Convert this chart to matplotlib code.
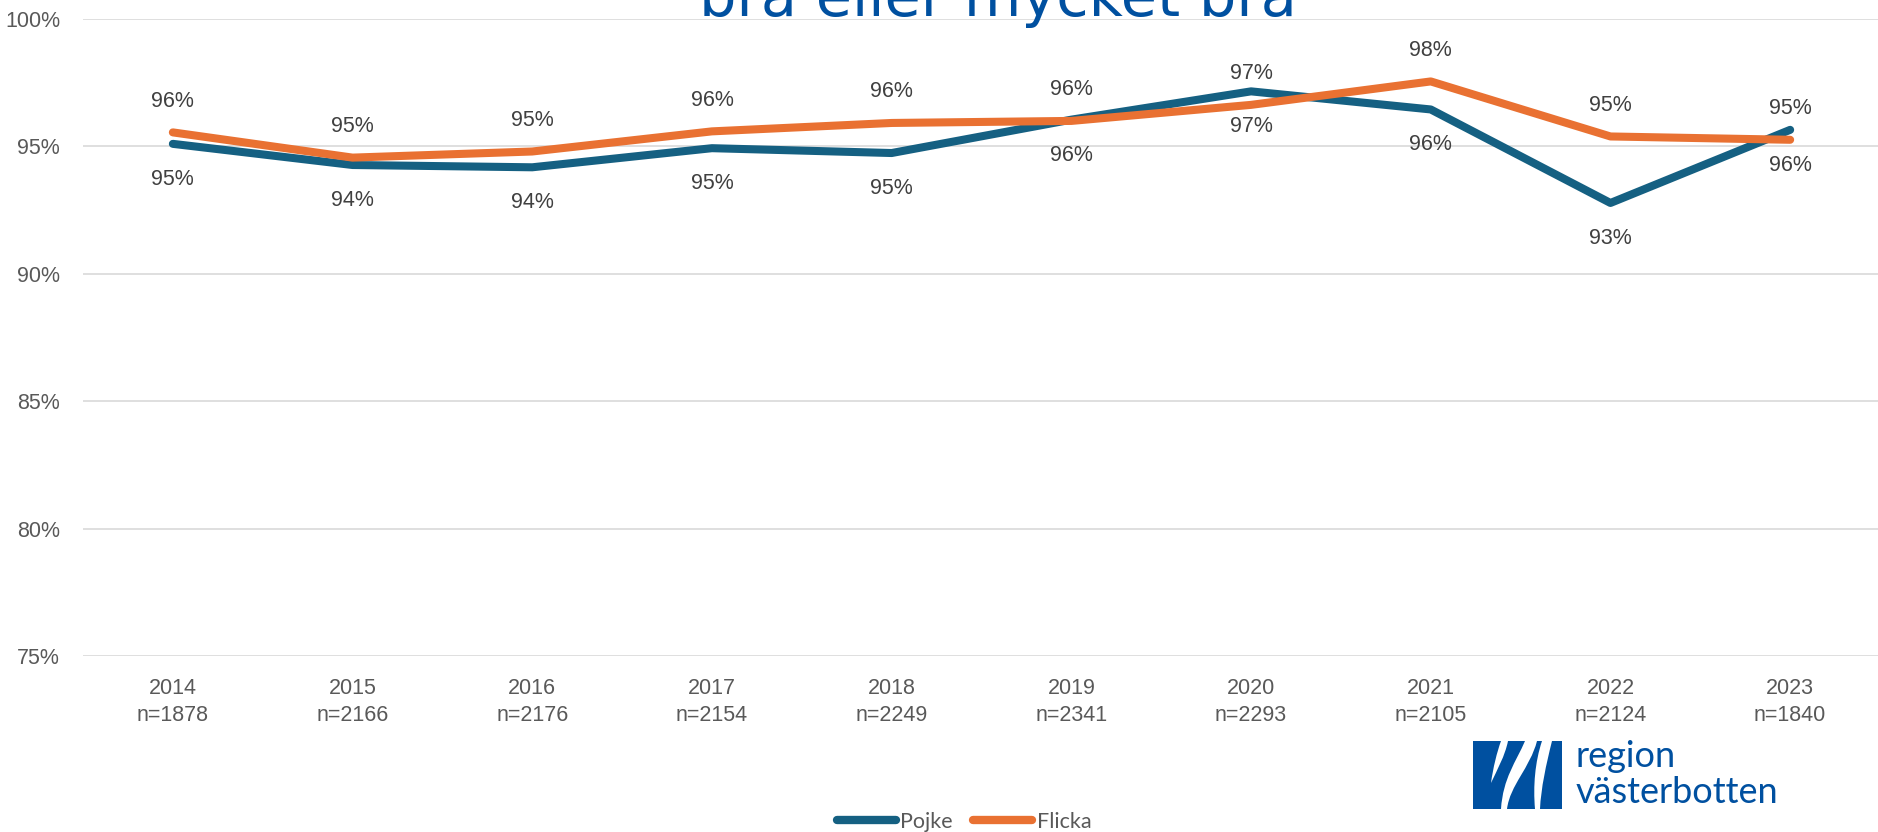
import matplotlib
matplotlib.use("Agg")
import matplotlib.pyplot as plt
from matplotlib.patches import Rectangle, PathPatch
from matplotlib.path import Path
from matplotlib.lines import Line2D

# ---- data ----
years = ["2014", "2015", "2016", "2017", "2018", "2019", "2020", "2021", "2022", "2023"]
n_counts = [1878, 2166, 2176, 2154, 2249, 2341, 2293, 2105, 2124, 1840]
pojke = [95.1, 94.27, 94.18, 94.93, 94.74, 96.05, 97.16, 96.45, 92.78, 95.65]
flicka = [95.55, 94.56, 94.8, 95.59, 95.92, 96.0, 96.63, 97.55, 95.39, 95.26]
yticks = [75, 80, 85, 90, 95, 100]

BLUE = "#156082"
ORANGE = "#E97132"
TICK = "#595959"
LABEL = "#404040"
BRAND = "#0050A0"

W, H = 1878, 832
fig = plt.figure(figsize=(W / 100, H / 100), dpi=100)
fig.patch.set_facecolor("white")

ax = fig.add_axes([83 / W, 1 - 656 / H, 1797 / W, 637 / H])
x = list(range(len(years)))

ax.plot(x, pojke, color=BLUE, lw=5.8, solid_capstyle="round", solid_joinstyle="round", zorder=3, label="Pojke")
ax.plot(x, flicka, color=ORANGE, lw=5.8, solid_capstyle="round", solid_joinstyle="round", zorder=4, label="Flicka")

lab_font = dict(family=["Liberation Sans", "DejaVu Sans"], fontsize=15.5, color=LABEL)
for i, v in enumerate(pojke):
    ax.annotate(f"{round(v)}%", (i, v), xytext=(0, -25.5), textcoords="offset points",
                ha="center", va="center", **lab_font)
for i, v in enumerate(flicka):
    ax.annotate(f"{round(v)}%", (i, v), xytext=(0, 22.5), textcoords="offset points",
                ha="center", va="center", **lab_font)

ax.set_xlim(-0.5, len(years) - 0.5)
ax.set_ylim(75, 100)
ax.set_yticks(yticks)
ax.set_yticklabels([f"{t}%" for t in yticks])
ax.set_xticks(x)
ax.set_xticklabels([f"{y}\nn={n}" for y, n in zip(years, n_counts)], linespacing=1.35)
for t in ax.get_xticklabels() + ax.get_yticklabels():
    t.set_fontfamily(["Liberation Sans", "DejaVu Sans"])
    t.set_fontsize(15.5)
    t.set_color(TICK)
ax.tick_params(axis="y", length=0, pad=16.5)
ax.tick_params(axis="x", length=0, pad=16)
ax.grid(axis="y", color="#D9D9D9", lw=1.2)
ax.set_axisbelow(True)
for s in ax.spines.values():
    s.set_visible(False)

# ---- title (first line lies outside the canvas) ----
fig.text(998 / W, 1 - 16 / H, "bra eller mycket bra", ha="center", va="baseline",
         color=BRAND, fontsize=42.5, family=["DejaVu Sans"])

# ---- legend ----
handles = [Line2D([], [], color=BLUE, lw=6, solid_capstyle="round"),
           Line2D([], [], color=ORANGE, lw=6, solid_capstyle="round")]
leg = fig.legend(handles, ["Pojke", "Flicka"], loc="center", bbox_to_anchor=(964 / W, 1 - 822 / H),
                 ncol=2, frameon=False, handlelength=2.75, handletextpad=0.2, columnspacing=0.95,
                 borderpad=0, prop=dict(family=["Lato", "DejaVu Sans"], size=15.5))
for t in leg.get_texts():
    t.set_color(TICK)

# ---- logo ----
lg = fig.add_axes([0, 0, 1, 1], zorder=10)
lg.set_xlim(0, W)
lg.set_ylim(H, 0)
lg.axis("off")
lg.patch.set_alpha(0)
lg.add_patch(Rectangle((1473, 741), 89, 68, facecolor=BRAND, edgecolor="none"))

C4 = Path.CURVE4
def swoosh(verts):
    codes = [Path.MOVETO, C4, C4, C4, Path.LINETO, C4, C4, C4, Path.CLOSEPOLY]
    lg.add_patch(PathPatch(Path(verts + [verts[0]], codes), facecolor="white", edgecolor="none"))

# first swoosh: from top edge, tapering to a point inside the square
swoosh([(1501, 741), (1497, 752), (1493, 768), (1491, 783),
        (1491, 783), (1497, 770), (1505, 756), (1508, 741)])
# second swoosh: top to bottom
swoosh([(1525, 741), (1516, 762), (1503, 778), (1501, 809),
        (1507, 809), (1510, 785), (1530, 768), (1537, 741)])
# third swoosh: top to bottom
swoosh([(1542, 741), (1535, 762), (1533, 786), (1535, 809),
        (1540, 809), (1541, 788), (1546, 765), (1552, 741)])

lg.text(1576, 767, "region", color=BRAND, fontsize=26, family=["Lato", "DejaVu Sans"], va="baseline", ha="left")
lg.text(1576, 803, "västerbotten", color=BRAND, fontsize=26, family=["Lato", "DejaVu Sans"], va="baseline", ha="left")

fig.savefig("out.png", dpi=100, facecolor="white")
